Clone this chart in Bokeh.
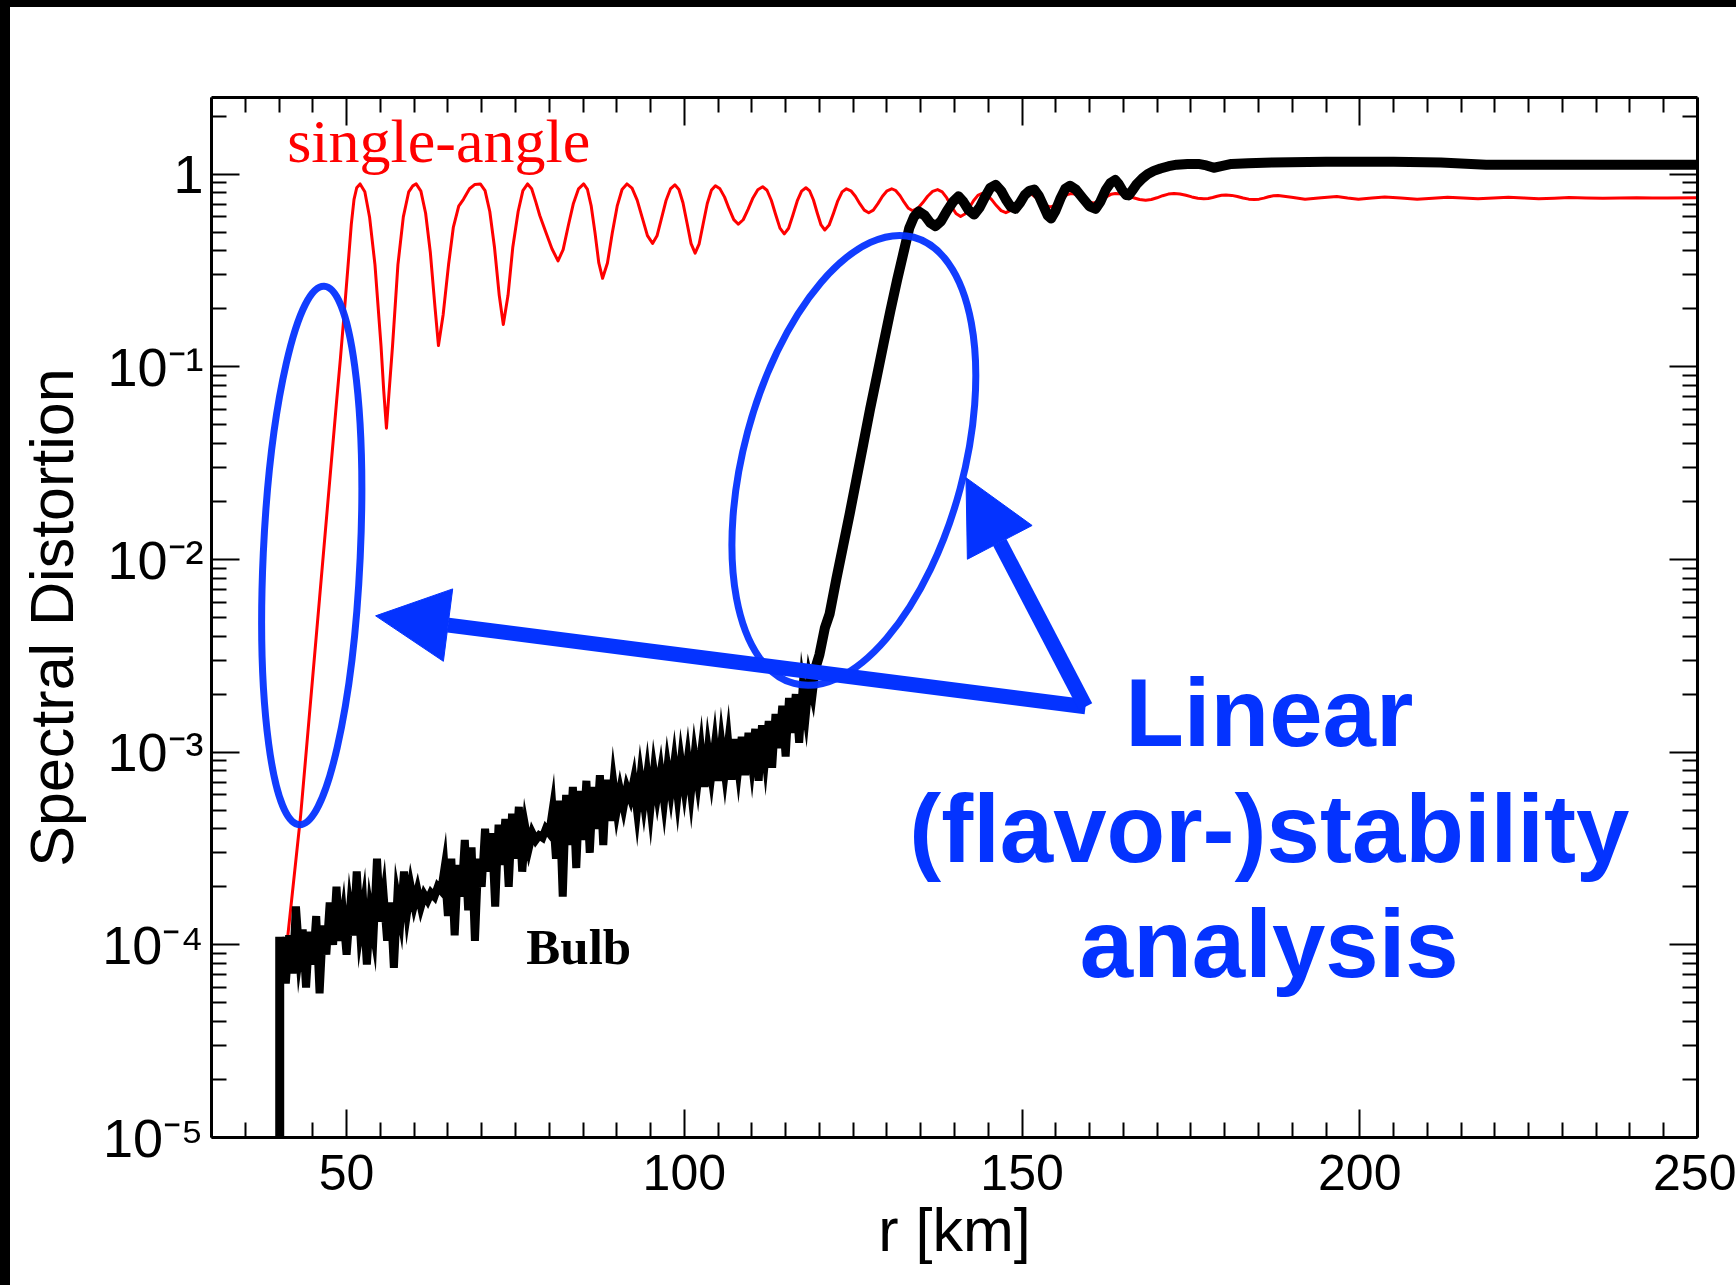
from bokeh.plotting import figure
from bokeh.models import (Range1d, LinearAxis, LogAxis, FixedTicker, Label,
                          Arrow, NormalHead, Div)
from bokeh.layouts import column, row
from bokeh.embed import file_html
from bokeh.resources import INLINE

# ---------------- data ----------------
x_major_ticks = [50, 100, 150, 200, 250]
x_minor_ticks = [30, 35, 40, 45, 55, 60, 65, 70, 75, 80, 85, 90, 95, 105, 110, 115,
                 120, 125, 130, 135, 140, 145, 155, 160, 165, 170, 175, 180, 185,
                 190, 195, 205, 210, 215, 220, 225, 230, 235, 240, 245]
y_major_ticks = [1e-5, 1e-4, 1e-3, 1e-2, 1e-1, 1.0]
y_tick_labels = ["10⁻⁵", "10⁻⁴", "10⁻³", "10⁻²", "10⁻¹", "1"]
y_minor_ticks = [m * 10.0 ** k for k in range(-5, 1) for m in range(2, 10)
                 if m * 10.0 ** k <= 2.5]

# single-angle (red), values
single_r = [
    41.0, 43.2, 46.0, 48.5, 49.1, 49.7, 50.2, 50.7, 51.1, 51.5, 52.0,
    52.7, 53.4, 54.2, 55.1, 55.5, 55.9,
    56.3, 56.8, 57.6, 58.4, 59.2, 59.8, 60.3,
    61.0, 61.7, 62.4, 63.1, 63.6,
    64.3, 65.1, 65.8, 66.6, 67.3, 68.2, 69.0, 69.8,
    70.5, 71.2, 71.9, 72.6, 73.2,
    73.9, 74.6, 75.4, 76.1, 76.8,
    77.4, 78.0, 78.6, 79.5, 80.4, 81.3,
    82.06, 82.82, 83.58, 84.34, 85.1,
    85.66, 86.22, 86.78, 87.34, 87.9,
    88.62, 89.34, 90.06, 90.78, 91.5,
    92.26, 93.02, 93.78, 94.54, 95.3,
    95.96, 96.62, 97.28, 97.94, 98.6,
    99.2, 99.8, 100.4, 101.0, 101.6,
    102.2, 102.8, 103.4, 104.0, 104.6,
    105.28, 105.96, 106.64, 107.32, 108.0,
    108.72, 109.44, 110.16, 110.88, 111.6,
    112.24, 112.88, 113.52, 114.16, 114.8,
    115.44, 116.08, 116.72, 117.36, 118.0,
    118.56, 119.12, 119.68, 120.24, 120.8,
    121.44, 122.08, 122.72, 123.36, 124.0,
    124.66, 125.32, 125.98, 126.64, 127.3,
    127.98, 128.66, 129.34, 130.02, 130.7,
    131.32, 131.94, 132.56, 133.18, 133.8,
    134.54, 135.28, 136.02, 136.76, 137.5,
    138.18, 138.86, 139.54, 140.22, 140.9,
    141.54, 142.18, 142.82, 143.46, 144.1,
    144.8, 145.5, 146.2, 146.9, 147.6,
    148.24, 148.88, 149.52, 150.16, 150.8,
    151.48, 152.16, 152.84, 153.52, 154.2,
    154.82, 155.44, 156.06, 156.68, 157.3,
    157.96, 158.62, 159.28, 159.94, 160.6,
    161.24, 161.88, 162.52, 163.16, 163.8,
    164.7, 165.6, 166.5, 167.4, 168.3,
    169.14, 169.98, 170.82, 171.66, 172.5,
    173.38, 174.26, 175.14, 176.02, 176.9,
    177.56, 178.22, 178.88, 179.54, 180.2,
    181.04, 181.88, 182.72, 183.56, 184.4,
    185.1, 185.8, 186.5, 187.2, 187.9,
    189.9, 191.9, 194.3, 196.6, 198.2, 199.8, 201.8, 203.7, 206.1, 208.5,
    210.8, 213.0, 215.3, 217.5, 219.8, 222.0, 224.3, 226.5, 228.8, 231.0,
    233.5, 236.0, 238.5, 241.0, 243.3, 245.5, 250.0]
single_sd = [
    8.9e-5, 4.7e-4, 6.3e-3, 0.065, 0.112, 0.20, 0.33, 0.55, 0.74, 0.85, 0.89,
    0.81, 0.60, 0.339, 0.128, 0.075, 0.048,
    0.075, 0.128, 0.339, 0.60, 0.81, 0.87, 0.89,
    0.817, 0.627, 0.392, 0.202, 0.129,
    0.187, 0.340, 0.529, 0.682, 0.74, 0.84, 0.885, 0.89,
    0.821, 0.640, 0.416, 0.235, 0.166,
    0.235, 0.416, 0.640, 0.821, 0.89,
    0.84, 0.72, 0.61, 0.50, 0.41, 0.355,
    0.406, 0.540, 0.705, 0.839, 0.89,
    0.833, 0.682, 0.496, 0.346, 0.288,
    0.346, 0.496, 0.682, 0.833, 0.89,
    0.847, 0.734, 0.593, 0.480, 0.437,
    0.479, 0.590, 0.727, 0.838, 0.88,
    0.833, 0.711, 0.558, 0.436, 0.389,
    0.435, 0.555, 0.704, 0.824, 0.87,
    0.839, 0.760, 0.660, 0.581, 0.55,
    0.580, 0.657, 0.753, 0.830, 0.86,
    0.825, 0.732, 0.618, 0.525, 0.49,
    0.524, 0.614, 0.726, 0.816, 0.85,
    0.818, 0.734, 0.629, 0.545, 0.513,
    0.544, 0.626, 0.727, 0.809, 0.84,
    0.820, 0.768, 0.703, 0.651, 0.631,
    0.651, 0.703, 0.768, 0.820, 0.84,
    0.821, 0.773, 0.713, 0.665, 0.646,
    0.664, 0.710, 0.768, 0.814, 0.832,
    0.810, 0.753, 0.682, 0.625, 0.603,
    0.621, 0.669, 0.728, 0.776, 0.794,
    0.778, 0.738, 0.687, 0.647, 0.631,
    0.647, 0.687, 0.738, 0.778, 0.794,
    0.783, 0.753, 0.717, 0.687, 0.676,
    0.687, 0.717, 0.753, 0.783, 0.794,
    0.786, 0.764, 0.738, 0.716, 0.708,
    0.716, 0.738, 0.764, 0.786, 0.794,
    0.788, 0.773, 0.754, 0.739, 0.733,
    0.739, 0.754, 0.773, 0.788, 0.794,
    0.789, 0.777, 0.762, 0.750, 0.745,
    0.748, 0.757, 0.768, 0.777, 0.780,
    0.776, 0.766, 0.752, 0.742, 0.738,
    0.742, 0.751, 0.763, 0.772, 0.776,
    0.759, 0.741, 0.755, 0.766, 0.752, 0.741, 0.752, 0.762, 0.752, 0.741,
    0.750, 0.759, 0.752, 0.745, 0.752, 0.759, 0.752, 0.746, 0.751, 0.757,
    0.753, 0.750, 0.753, 0.755, 0.753, 0.752, 0.755]

# Bulb (black): vertical onset
bulb_onset_r = [40.1, 40.1]
bulb_onset_sd = [4e-6, 1.1e-4]

# Bulb noisy part, read every 0.5 km starting at 40.5 km
bulb_noisy_sd = [
    1.10e-4, 6.3e-5, 1.12e-4, 7.1e-5, 1.58e-4, 8.9e-5, 1.20e-4, 6.0e-5, 1.17e-4, 7.9e-5,   # 40.5-45.0
    1.41e-4, 5.6e-5, 1.26e-4, 8.9e-5, 1.66e-4, 1.0e-4, 2.0e-4, 1.05e-4, 1.41e-4, 8.9e-5,   # 45.5-50.0
    1.51e-4, 1.12e-4, 2.4e-4, 1.20e-4, 1.58e-4, 7.9e-5, 1.48e-4, 1.15e-4, 2.8e-4, 1.32e-4, # 50.5-55.0
    1.78e-4, 1.05e-4, 1.66e-4, 7.6e-5, 1.74e-4, 1.38e-4, 2.4e-4, 1.51e-4, 2.0e-4, 1.62e-4, # 55.5-60.0
    1.91e-4, 1.58e-4, 1.82e-4, 1.70e-4, 1.86e-4, 1.78e-4, 2.0e-4, 1.91e-4, 2.5e-4, 1.41e-4, # 60.5-65.0
    2.8e-4, 1.12e-4, 2.6e-4, 1.78e-4, 3.5e-4, 1.51e-4, 3.2e-4, 1.05e-4, 2.8e-4, 2.0e-4,    # 65.5-70.0
    4.0e-4, 2.4e-4, 3.8e-4, 1.58e-4, 4.2e-4, 2.6e-4, 4.5e-4, 2.0e-4, 4.8e-4, 2.8e-4,       # 70.5-75.0
    5.2e-4, 2.4e-4, 4.0e-4, 3.2e-4, 3.8e-4, 3.5e-4, 3.7e-4, 3.6e-4, 4.0e-4, 3.8e-4,        # 75.5-80.0
    5.0e-4, 2.8e-4, 5.6e-4, 1.78e-4, 6.0e-4, 3.3e-4, 6.6e-4, 2.5e-4, 6.3e-4, 3.5e-4,       # 80.5-85.0
    7.1e-4, 3.0e-4, 6.6e-4, 4.0e-4, 7.6e-4, 3.3e-4, 7.2e-4, 4.4e-4, 6.9e-4, 5.0e-4,        # 85.5-90.0
    6.3e-4, 5.2e-4, 6.5e-4, 5.8e-4, 7.1e-4, 5.0e-4, 7.4e-4, 5.5e-4, 7.6e-4, 5.2e-4,        # 90.5-95.0
    7.9e-4, 6.0e-4, 7.8e-4, 5.6e-4, 8.3e-4, 6.3e-4, 8.7e-4, 6.0e-4, 8.9e-4, 6.6e-4,        # 95.5-100.0
    9.1e-4, 6.3e-4, 9.5e-4, 7.1e-4, 1.0e-3, 6.6e-4, 1.02e-3, 7.6e-4, 1.07e-3, 7.1e-4,      # 100.5-105.0
    1.10e-3, 7.9e-4, 1.12e-3, 7.2e-4, 1.17e-3, 8.3e-4, 1.20e-3, 7.6e-4, 1.26e-3, 8.9e-4,   # 105.5-110.0
    1.32e-3, 7.1e-4, 1.38e-3, 9.5e-4, 1.45e-3, 8.3e-4, 1.58e-3, 1.05e-3, 1.74e-3, 9.5e-4,  # 110.5-115.0
    1.91e-3, 1.26e-3, 2.0e-3, 1.12e-3, 2.1e-3, 1.58e-3, 2.4e-3, 2.0e-3, 2.8e-3,            # 115.5-119.5
]
bulb_noisy_r = [40.5 + 0.5 * i for i in range(len(bulb_noisy_sd))]

# Bulb smooth part (growth, wiggles, saturation)
bulb_smooth_r = [119.5, 120.0, 120.8, 121.5, 122.5, 123.5, 124.5, 125.5, 126.5, 127.5,
                 128.5, 129.5, 130.5, 131.5, 132.5, 133.3, 134.0, 134.7, 135.6, 136.4,
                 137.2, 138.0, 138.9, 139.8, 140.6, 141.3, 142.1, 142.9, 143.7, 144.5,
                 145.3, 146.1, 146.9, 147.6, 148.3, 149.0, 149.7, 150.4, 151.1, 151.8,
                 152.5, 153.2, 153.8, 154.3, 154.9, 155.7, 156.4, 157.1, 158.0, 159.0,
                 160.0, 160.9, 161.6, 162.4, 163.1, 163.8, 164.3, 164.8, 165.4, 165.8,
                 166.4, 167.0, 167.8, 168.6, 169.5, 170.5, 171.7, 172.9, 174.5, 176.1,
                 177.3, 178.4, 179.5, 181.0, 183.5, 187.1, 195.0, 205.0, 212.0, 218.7,
                 226.0, 235.0, 245.0, 250.0]
bulb_smooth_sd = [2.8e-3, 3.2e-3, 4.4e-3, 5.2e-3, 7.9e-3, 0.0117, 0.0174, 0.0263, 0.0398,
                  0.0603, 0.0891, 0.132, 0.195, 0.282, 0.398, 0.525, 0.60, 0.64, 0.61,
                  0.56, 0.537, 0.57, 0.646, 0.72, 0.767, 0.72, 0.65, 0.617, 0.67, 0.76,
                  0.85, 0.881, 0.82, 0.74, 0.68, 0.661, 0.71, 0.78, 0.82, 0.832,
                  0.77, 0.68, 0.61, 0.589, 0.64, 0.75, 0.84, 0.871, 0.83, 0.75,
                  0.68, 0.661, 0.72, 0.83, 0.90, 0.933, 0.89, 0.83, 0.78, 0.776,
                  0.83, 0.89, 0.95, 1.00, 1.04, 1.07, 1.10, 1.12, 1.13, 1.13,
                  1.11, 1.08, 1.10, 1.13, 1.14, 1.15, 1.16, 1.16, 1.15, 1.12,
                  1.12, 1.12, 1.12, 1.12]

# annotation anchors (data coordinates)
ellipse_r = [44.84, 125.1]
ellipse_sd = [0.0105, 0.0327]
arrow_tail = (159.4, 1.72e-3)
arrow_tips = [(54.3, 5.1e-3), (141.7, 0.0266)]

BLUE = "#0433ff"
RED = "#ff0000"

# ---------------- figure ----------------
p = figure(width=1726, height=1278, title=None,
           x_range=Range1d(30, 250), y_range=Range1d(1e-5, 2.5),
           y_axis_type="log", output_backend="svg", toolbar_location=None,
           min_border_left=201, min_border_right=39, min_border_top=90,
           min_border_bottom=148)
p.background_fill_color = "white"
p.border_fill_color = "white"
p.outline_line_color = None
p.xgrid.visible = False
p.ygrid.visible = False

xt = FixedTicker(ticks=x_major_ticks, minor_ticks=x_minor_ticks)
yt = FixedTicker(ticks=y_major_ticks, minor_ticks=y_minor_ticks)


def style_axis(ax):
    ax.axis_line_width = 3
    ax.axis_line_color = "black"
    ax.major_tick_in = 28
    ax.major_tick_out = 0
    ax.minor_tick_in = 15
    ax.minor_tick_out = 0
    ax.major_tick_line_width = 2
    ax.minor_tick_line_width = 2
    ax.major_tick_line_color = "black"
    ax.minor_tick_line_color = "black"
    ax.major_label_text_font = "Liberation Sans"
    ax.major_label_text_font_size = "50px"
    ax.major_label_text_color = "black"
    ax.axis_label_text_font = "Liberation Sans"
    ax.axis_label_text_font_size = "61px"
    ax.axis_label_text_font_style = "normal"
    ax.axis_label_text_color = "black"


xa = p.xaxis[0]
xa.ticker = xt
style_axis(xa)
xa.axis_label = "r [km]"
xa.major_label_standoff = 17
xa.axis_label_standoff = 3

ya = p.yaxis[0]
ya.ticker = yt
style_axis(ya)
ya.major_label_text_font_size = "54px"
ya.axis_label = "Spectral Distortion"
ya.major_label_overrides = {v: s for v, s in zip(y_major_ticks, y_tick_labels)}
ya.major_label_standoff = 8
ya.axis_label_standoff = 13

top_ax = LinearAxis(ticker=FixedTicker(ticks=x_major_ticks, minor_ticks=x_minor_ticks))
style_axis(top_ax)
top_ax.major_label_overrides = {v: "" for v in x_major_ticks}
top_ax.major_label_text_font_size = "1px"
p.add_layout(top_ax, "above")

right_ax = LogAxis(ticker=FixedTicker(ticks=y_major_ticks, minor_ticks=y_minor_ticks))
style_axis(right_ax)
right_ax.major_label_overrides = {v: "" for v in y_major_ticks}
right_ax.major_label_text_font_size = "1px"
p.add_layout(right_ax, "right")

# curves
p.line(single_r, single_sd, line_color=RED, line_width=3, line_join="round")
p.line(bulb_onset_r, bulb_onset_sd, line_color="black", line_width=9)
p.line(bulb_noisy_r, bulb_noisy_sd, line_color="black", line_width=8, line_join="miter")
p.line(bulb_smooth_r, bulb_smooth_sd, line_color="black", line_width=10, line_join="round")

# hand-drawn style ellipses
p.ellipse(x=[ellipse_r[0]], y=[ellipse_sd[0]], width=97, height=539, angle=-0.046,
          width_units="screen", height_units="screen",
          fill_color=None, line_color=BLUE, line_width=7, line_alpha=0.95)
p.ellipse(x=[ellipse_r[1]], y=[ellipse_sd[1]], width=220, height=462, angle=-0.262,
          width_units="screen", height_units="screen",
          fill_color=None, line_color=BLUE, line_width=7, line_alpha=0.95)

# arrows
for tip in arrow_tips:
    p.add_layout(Arrow(x_start=arrow_tail[0], y_start=arrow_tail[1],
                       x_end=tip[0], y_end=tip[1],
                       end=NormalHead(size=73, fill_color=BLUE, line_color=BLUE, line_width=1),
                       line_color=BLUE, line_width=15))

# labels
p.add_layout(Label(x=41.2, y=1.48, text="single-angle", text_color=RED,
                   text_font="Liberation Serif", text_font_size="62px",
                   text_baseline="alphabetic", text_align="left"))
p.add_layout(Label(x=76.6, y=9.8e-5, text="Bulb", text_color="black",
                   text_font="Liberation Serif", text_font_size="51px",
                   text_font_style="bold", text_baseline="alphabetic", text_align="left"))
for txt, yy in [("Linear", 1.60e-3), ("(flavor-)stability", 4.04e-4), ("analysis", 1.02e-4)]:
    p.add_layout(Label(x=186.6, y=yy, text=txt, text_color=BLUE,
                       text_font="Liberation Sans", text_font_size="96px",
                       text_font_style="bold", text_baseline="alphabetic",
                       text_align="center"))

top_bar = Div(width=1736, height=7, margin=0, styles={"background-color": "black"})
left_bar = Div(width=10, height=1278, margin=0, styles={"background-color": "black"})
layout = column(top_bar, row(left_bar, p, spacing=0), spacing=0)

open("out.html", "w").write(file_html(layout, INLINE))
